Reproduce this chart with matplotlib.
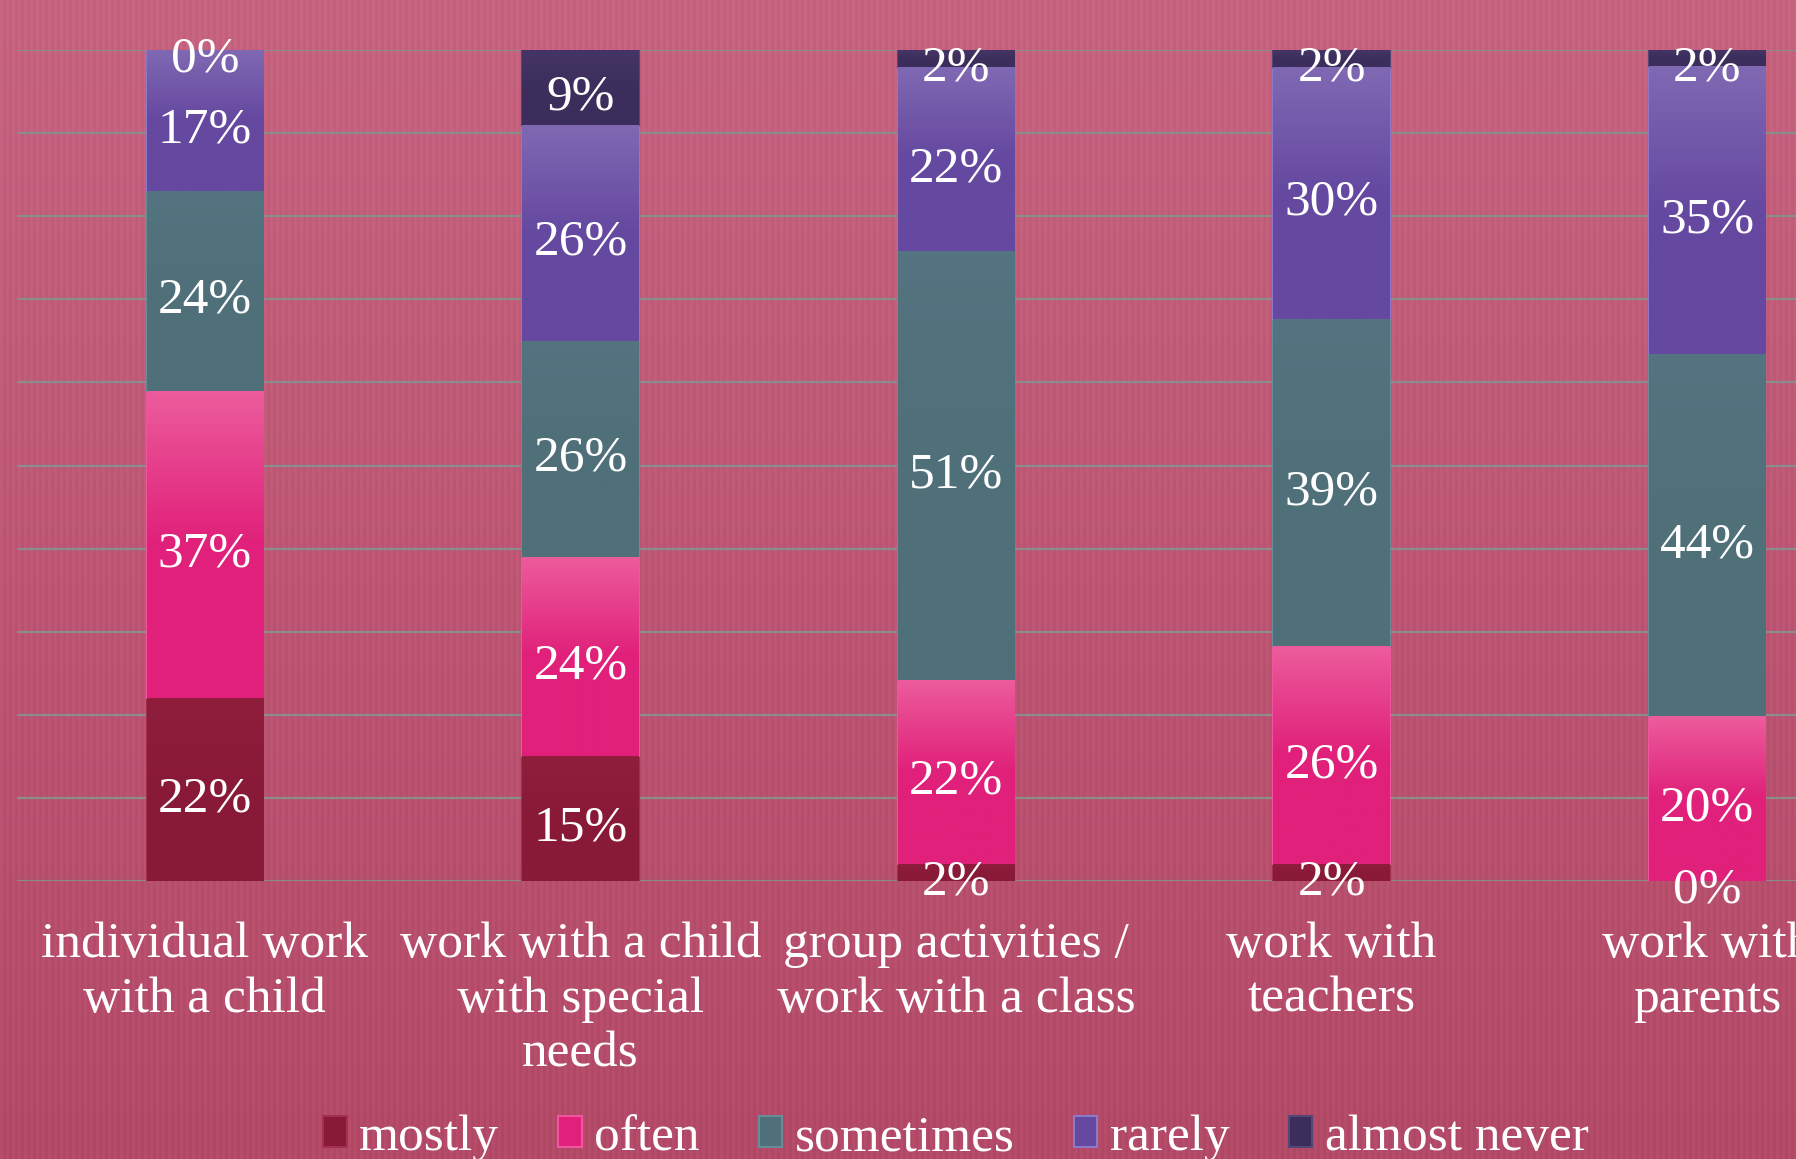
import numpy as np
import matplotlib
matplotlib.use("Agg")
import matplotlib.pyplot as plt
import matplotlib.transforms as mtransforms
from matplotlib.patches import Patch
from matplotlib.colors import LinearSegmentedColormap, to_rgb

# --- data (percent of answers per activity) ---
categories = [
    "individual work\nwith a child",
    "work with a child\nwith special\nneeds",
    "group activities /\nwork with a class",
    "work with\nteachers",
    "work with\nparents",
]
series_names = ["mostly", "often", "sometimes", "rarely", "almost never"]
mostly = [22, 15, 2, 2, 0]
often = [37, 24, 22, 26, 20]
sometimes = [24, 26, 51, 39, 44]
rarely = [17, 26, 22, 30, 35]
almost_never = [0, 9, 2, 2, 2]

# base (bottom) and highlight (top) colour of every series
base_colors = ["#891a37", "#e0207a", "#4f6f79", "#6548a0", "#3c2e5c"]
top_colors = ["#8f1e3c", "#ec5c9c", "#537480", "#8069b3", "#443566"]
edge_colors = ["#a3304f", "#f255a0", "#6a8c96", "#8e78c8", "#55467a"]

FONT = "Liberation Serif"
W, H = 1796, 1159
fig = plt.figure(figsize=(W / 100, H / 100), dpi=100)

# background: vertical gradient with faint vertical stripes
bg = fig.add_axes([0, 0, 1, 1], zorder=-10)
top_c = np.array([198, 99, 127]) / 255
bot_c = np.array([178, 73, 103]) / 255
t = np.linspace(0, 1, H)[:, None, None]
img = top_c * (1 - t) + bot_c * t
img = np.repeat(img, W, axis=1)
cols = np.arange(W)
stripe = np.where((cols // 3) % 2 == 0, 0.012, -0.008)[None, :, None]
img = np.clip(img + stripe, 0, 1)
bg.imshow(img, aspect="auto", extent=[0, 1, 0, 1])
bg.axis("off")

ax = fig.add_axes([17 / W, 278 / H, 1878 / W, 831 / H])
ax.patch.set_alpha(0)

data = np.array([mostly, often, sometimes, rarely, almost_never], dtype=float)
totals = data.sum(axis=0)
heights = data / totals * 100
x = np.arange(len(categories))
bar_w = 0.31

# value labels sit slightly below the segment centre
lbl_tf = ax.transData + mtransforms.ScaledTranslation(0, -7 / 72, fig.dpi_scale_trans)

bottom = np.zeros(len(categories))
for i, name in enumerate(series_names):
    bars = ax.bar(x, heights[i], bar_w, bottom=bottom, color=base_colors[i],
                  edgecolor=edge_colors[i], linewidth=1.5, zorder=3, label=name)
    cmap = LinearSegmentedColormap.from_list(
        f"g{i}", [to_rgb(top_colors[i]), to_rgb(base_colors[i]), to_rgb(base_colors[i])])
    grad = np.linspace(0, 1, 100)[:, None]
    for j, b in enumerate(bars):
        h = heights[i][j]
        if h > 0:
            im = ax.imshow(grad, cmap=cmap, aspect="auto", zorder=3.1,
                           extent=[x[j] - bar_w / 2, x[j] + bar_w / 2,
                                   bottom[j], bottom[j] + h])
            im.set_clip_path(b)
        ax.text(x[j], bottom[j] + h / 2, f"{int(data[i][j])}%", ha="center",
                va="center", color="white", fontsize=37, family=FONT, zorder=5,
                transform=lbl_tf)
    bottom += heights[i]

ax.set_xlim(-0.5, len(categories) - 0.5)
ax.set_ylim(0, 100)
ax.set_yticks(np.arange(0, 101, 10))
ax.yaxis.grid(True, color="#8c8c8c", linewidth=1.6, zorder=1)
ax.set_axisbelow(True)
ax.tick_params(axis="y", length=0, labelleft=False)
ax.tick_params(axis="x", length=0, pad=29)
ax.set_xticks(x)
ax.set_xticklabels(categories, fontsize=37, family=FONT, color="white",
                   linespacing=1.24)
for s in ax.spines.values():
    s.set_visible(False)

handles = [Patch(facecolor=base_colors[i], edgecolor=edge_colors[i], linewidth=1.5,
                 label=series_names[i]) for i in range(len(series_names))]
leg = ax.legend(handles=handles, loc="lower center", bbox_to_anchor=(0.5, -0.368),
                ncol=5, frameon=False, prop={"family": FONT, "size": 37},
                handlelength=0.45, handleheight=0.55, handletextpad=0.25,
                columnspacing=1.15, borderpad=0)
for txt in leg.get_texts():
    txt.set_color("white")

fig.savefig("out.png", dpi=100)
